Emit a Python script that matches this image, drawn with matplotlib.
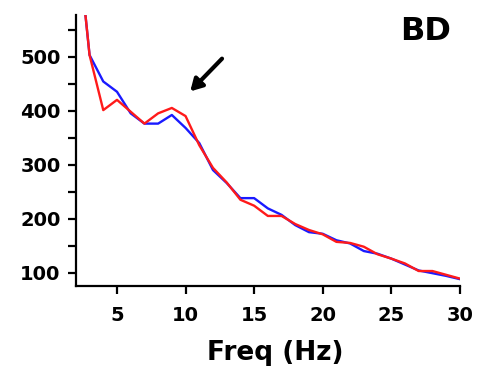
import matplotlib
matplotlib.use('Agg')
import matplotlib.pyplot as plt
from matplotlib.ticker import MultipleLocator

plt.rcParams['font.family'] = ['DejaVu Sans']
plt.rcParams['font.weight'] = 'bold'

# 频率 (Hz)
freq = list(range(2, 31))
# 蓝线
blue = [750, 503, 454, 435, 395, 376, 376, 392, 368, 340, 290, 266, 238, 238,
        219, 207, 188, 175, 172, 160, 154, 140, 135, 126, 115, 104, 99, 94, 88]
# 红线
red = [750, 503, 401, 420, 398, 376, 395, 405, 390, 336, 294, 267, 235, 224,
       205, 205, 190, 179, 171, 157, 155, 148, 134, 126, 117, 103, 103, 96, 89]

xticks = [5, 10, 15, 20, 25, 30]
yticks = [100, 200, 300, 400, 500]

fig = plt.figure(figsize=(4.8, 3.77), dpi=100)
ax = fig.add_axes([0.158, 0.241, 0.8, 0.719])

ax.plot(freq, blue, color='#1a1aff', linewidth=1.7)
ax.plot(freq, red, color='#ff1a1a', linewidth=1.7)

ax.set_xlim(2, 30)
ax.set_ylim(75, 577)
ax.set_xticks(xticks)
ax.set_yticks(yticks)
ax.yaxis.set_minor_locator(MultipleLocator(50))

for s in ['top', 'right']:
    ax.spines[s].set_visible(False)
for s in ['left', 'bottom']:
    ax.spines[s].set_linewidth(1.6)

ax.tick_params(axis='both', which='both', direction='out', width=1.6, length=6)
ax.tick_params(axis='y', pad=5, labelsize=14)
ax.tick_params(axis='x', pad=8, labelsize=14)
for lab in ax.get_xticklabels() + ax.get_yticklabels():
    lab.set_fontweight('bold')

ax.set_xlabel('Freq (Hz)', fontsize=19, fontweight='bold')
ax.xaxis.set_label_coords(0.52, -0.2)

ax.text(27.5, 546, 'BD', fontsize=23, fontweight='bold', ha='center', va='center')

ax.annotate('', xy=(10.2, 432), xytext=(12.8, 500),
            arrowprops=dict(arrowstyle='-|>,head_length=0.7,head_width=0.4',
                            color='black', lw=3))

plt.savefig('out.png', dpi=100)
plt.close()
